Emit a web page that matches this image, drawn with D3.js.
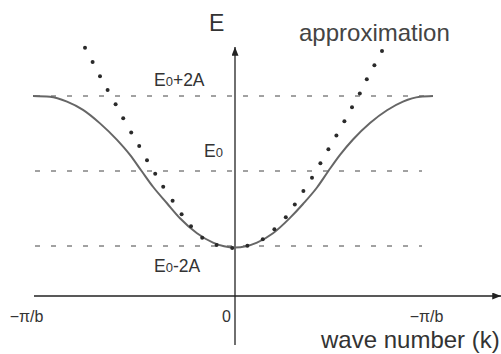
<!DOCTYPE html>
<html>
<head>
<meta charset="utf-8">
<script src="https://cdn.jsdelivr.net/npm/d3@7"></script>
<style>
  html, body { margin: 0; padding: 0; background: #fff; }
  svg { display: block; font-family: "Liberation Sans", Arial, Helvetica, sans-serif; }
</style>
</head>
<body>
<svg id="chart" width="501" height="354"></svg>
<script>
// Tight-binding band E(k) across the first Brillouin zone (k in units of π/b,
// E in units of A measured from E0), plus its parabolic approximation near k = 0.
const bandK = [-1.01, -0.925, -0.84, -0.76, -0.675, -0.59, -0.525, -0.467, -0.41, -0.34, -0.275, -0.19, -0.11, 0,
               0.11, 0.19, 0.275, 0.34, 0.41, 0.467, 0.525, 0.59, 0.675, 0.76, 0.84, 0.925, 0.99];
const bandE = [2.0, 1.98, 1.85, 1.63, 1.27, 0.83, 0.43, 0.0, -0.42, -0.86, -1.26, -1.66, -1.91, -2.04,
               -1.91, -1.66, -1.25, -0.88, -0.44, 0.0, 0.43, 0.84, 1.28, 1.62, 1.85, 1.98, 2.0];

const approxK = [-0.75, -0.712, -0.675, -0.637, -0.597, -0.559, -0.519, -0.479, -0.44, -0.399, -0.359, -0.312,
                 -0.267, -0.22, -0.164, -0.092, -0.014, 0.062, 0.139, 0.197, 0.254, 0.299, 0.342, 0.385,
                 0.427, 0.467, 0.507, 0.547, 0.585, 0.624, 0.659, 0.697, 0.735];
const approxE = [3.29, 2.91, 2.53, 2.16, 1.78, 1.41, 1.03, 0.67, 0.29, -0.07, -0.42, -0.79,
                 -1.15, -1.47, -1.78, -1.97, -2.05, -1.99, -1.82, -1.55, -1.23, -0.89, -0.53, -0.18,
                 0.21, 0.58, 0.95, 1.33, 1.70, 2.07, 2.45, 2.82, 3.20];

// Reference energy levels: E0+2A, E0, E0-2A, and where each guide line stops
const levelE = [2, 0, -2];
const levelEndK = [0.99, 0.935, 0.935];
const levelLabels = [["E", "0", "+2A"], ["E", "0", ""], ["E", "0", "-2A"]];

// k-axis ticks
const tickK = [-1, 0, 1];
const tickLabels = ["\u2212\u03C0/b", "0", "\u2212\u03C0/b"];

const svg = d3.select("#chart");
const x = d3.scaleLinear().domain([-1, 1]).range([35, 435]);
const y = d3.scaleLinear().domain([-2, 2]).range([246, 96]);
const axisY = 296;            // pixel row of the k axis
const ink = "#222";

// arrowheads
const defs = svg.append("defs");
defs.append("marker").attr("id", "arrow")
  .attr("viewBox", "0 0 10 8").attr("refX", 10).attr("refY", 4)
  .attr("markerUnits", "userSpaceOnUse")
  .attr("markerWidth", 10).attr("markerHeight", 7).attr("orient", "auto")
  .append("path").attr("d", "M0,0L10,4L0,8Z").attr("fill", ink);

// dashed guide lines
svg.append("g").selectAll("line").data(levelE).join("line")
  .attr("x1", x(-1)).attr("x2", (d, i) => x(levelEndK[i]))
  .attr("y1", d => y(d)).attr("y2", d => y(d))
  .attr("stroke", "#444").attr("stroke-width", 1)
  .attr("stroke-dasharray", "5,11");

// axes
svg.append("line")
  .attr("x1", x(-1) - 1).attr("x2", 501).attr("y1", axisY).attr("y2", axisY)
  .attr("stroke", ink).attr("stroke-width", 1.3).attr("marker-end", "url(#arrow)");
svg.append("line")
  .attr("x1", x(0)).attr("x2", x(0)).attr("y1", 345).attr("y2", 47)
  .attr("stroke", ink).attr("stroke-width", 1.3).attr("marker-end", "url(#arrow)");

// tick labels along k
const xAxis = d3.axisBottom(x).tickValues(tickK).tickSize(0).tickPadding(0)
  .tickFormat((d, i) => tickLabels[i]);
const gx = svg.append("g").attr("transform", `translate(0,${axisY})`).call(xAxis);
gx.select(".domain").remove();
gx.selectAll("text")
  .attr("dy", null).attr("y", 26).attr("dx", -9)
  .attr("font-size", 16).attr("fill", "#333")
  .attr("font-family", "'Liberation Sans', Arial, sans-serif");

// band curve
const line = d3.line().x(d => x(d[0])).y(d => y(d[1])).curve(d3.curveMonotoneX);
svg.append("path")
  .datum(d3.zip(bandK, bandE))
  .attr("d", line)
  .attr("fill", "none").attr("stroke", "#666").attr("stroke-width", 2);

// parabolic approximation, dotted
svg.append("g").selectAll("circle").data(d3.zip(approxK, approxE)).join("circle")
  .attr("cx", d => x(d[0])).attr("cy", d => y(d[1])).attr("r", 2)
  .attr("fill", "#2a2a2a");

// level labels
const labelPos = [[154, 86], [204, 157], [154, 272]];
levelLabels.forEach((parts, i) => {
  const t = svg.append("text")
    .attr("x", labelPos[i][0]).attr("y", labelPos[i][1])
    .attr("font-size", 17.5).attr("fill", "#333");
  t.append("tspan").text(parts[0]);
  t.append("tspan").attr("font-size", 13).text(parts[1]);
  if (parts[2]) t.append("tspan").text(parts[2]);
});

// axis titles
svg.append("text").attr("x", 209).attr("y", 31)
  .attr("font-size", 23).attr("fill", "#333").text("E");
svg.append("text").attr("x", 299).attr("y", 41)
  .attr("font-size", 24).attr("fill", "#444").text("approximation");
svg.append("text").attr("x", 321).attr("y", 348)
  .attr("font-size", 24).attr("fill", "#333").text("wave number (k)");
</script>
</body>
</html>
